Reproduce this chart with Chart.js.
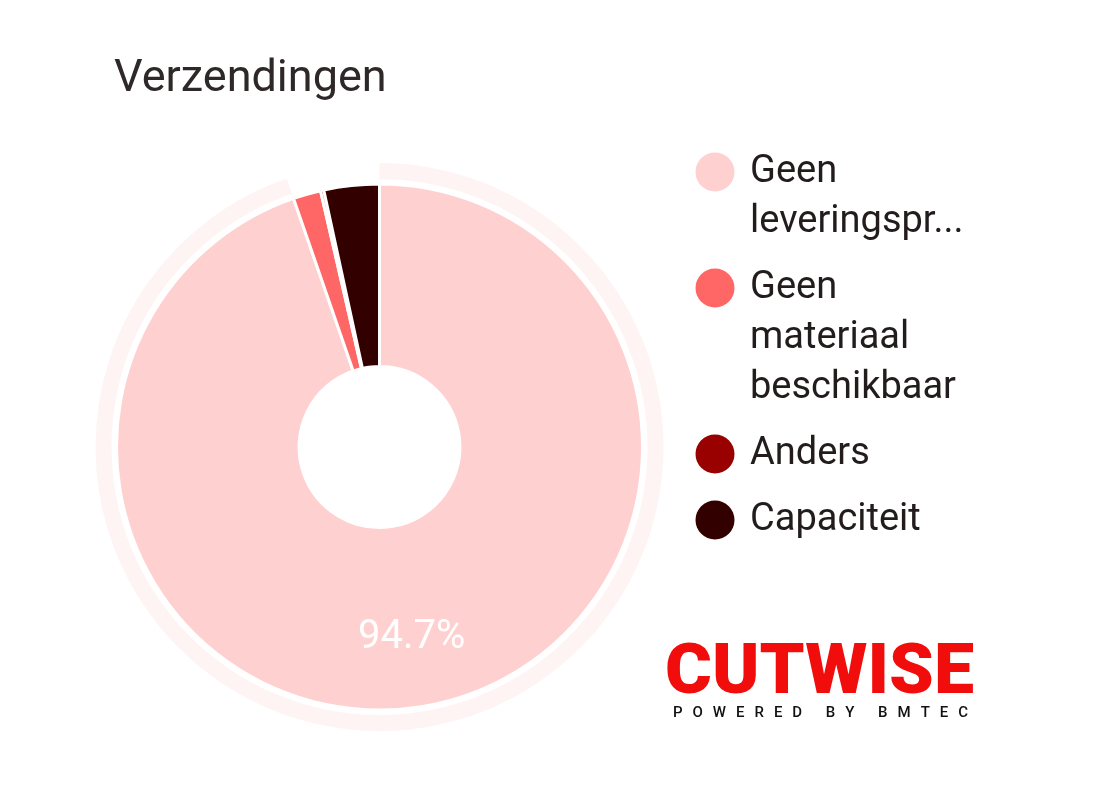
<!DOCTYPE html>
<html>
<head>
<meta charset="utf-8">
<script src="https://cdn.jsdelivr.net/npm/chart.js@4.4.1/dist/chart.umd.min.js"></script>
<style>
  html, body { margin: 0; padding: 0; background: #fff; }
  #wrap { width: 1105px; height: 812px; }
</style>
</head>
<body>
<div id="wrap"><canvas id="grafico" width="1105" height="812"></canvas></div>
<script>
const titel = "Verzendingen";
const categorieen = ["Geen leveringspr...", "Geen materiaal beschikbaar", "Anders", "Capaciteit"];
const legendaRegels = [["Geen", "leveringspr..."], ["Geen", "materiaal", "beschikbaar"], ["Anders"], ["Capaciteit"]];
const percentages = [94.7, 1.7, 0.2, 3.4];
const kleuren = ["#ffd0d0", "#ff6666", "#990000", "#330000"];
const ringKleur = "#fff4f4";

// faint highlight ring around the big slice + slice label
const ringPlugin = {
  id: "ring",
  beforeDatasetsDraw(chart) {
    const ctx = chart.ctx;
    const arc = chart.getDatasetMeta(0).data[0];
    const p = arc.getProps(["x", "y", "startAngle", "endAngle", "outerRadius"], true);
    ctx.save();
    ctx.beginPath();
    ctx.arc(p.x, p.y, p.outerRadius + 21, p.startAngle, p.endAngle);
    ctx.arc(p.x, p.y, p.outerRadius + 5, p.endAngle, p.startAngle, true);
    ctx.closePath();
    ctx.fillStyle = ringKleur;
    ctx.fill();
    ctx.restore();
  },
  afterDatasetsDraw(chart) {
    const ctx = chart.ctx;
    const meta = chart.getDatasetMeta(0);
    const totaal = percentages.reduce((a, b) => a + b, 0);
    meta.data.forEach((arc, i) => {
      const aandeel = percentages[i] / totaal;
      if (aandeel < 0.05) return;
      const p = arc.getProps(["x", "y", "startAngle", "endAngle", "innerRadius", "outerRadius"], true);
      const mid = (p.startAngle + p.endAngle) / 2;
      const r = p.innerRadius + (p.outerRadius - p.innerRadius) * 0.62;
      ctx.save();
      ctx.font = "40px Roboto";
      ctx.fillStyle = "#ffffff";
      ctx.textAlign = "center";
      ctx.textBaseline = "middle";
      ctx.fillText((aandeel * 100).toFixed(1) + "%", p.x + Math.cos(mid) * r, p.y + Math.sin(mid) * r);
      ctx.restore();
    });
  }
};

// title, legend and logo
const tekstPlugin = {
  id: "tekst",
  afterDraw(chart) {
    const ctx = chart.ctx;
    ctx.save();
    ctx.font = "45px Roboto";
    ctx.fillStyle = "#2e2828";
    ctx.textBaseline = "middle";
    ctx.fillText(titel, 114, 80);

    let y = 172;
    ctx.font = "38px Roboto";
    legendaRegels.forEach((regels, i) => {
      ctx.beginPath();
      ctx.arc(715, y, 19.5, 0, Math.PI * 2);
      ctx.fillStyle = kleuren[i];
      ctx.fill();
      ctx.fillStyle = "#231c1c";
      regels.forEach((regel, j) => ctx.fillText(regel, 750, y + j * 50));
      y += regels.length * 50 + 16;
    });

    ctx.textBaseline = "alphabetic";
    ctx.font = "900 70px Roboto";
    const w = ctx.measureText("CUTWISE").width;
    ctx.translate(665, 693);
    ctx.scale(309 / w, 1);
    ctx.fillStyle = "#f20d0d";
    ctx.fillText("CUTWISE", 0, 0);
    ctx.setTransform(1, 0, 0, 1, 0, 0);

    const onder = "POWERED BY BMTEC";
    ctx.font = "500 15px Roboto";
    ctx.fillStyle = "#111111";
    const breedtes = [...onder].map(c => ctx.measureText(c).width);
    const som = breedtes.reduce((a, b) => a + b, 0);
    const gat = (295 - som) / (onder.length - 1);
    let x = 673;
    [...onder].forEach((c, i) => {
      ctx.fillText(c, x, 717);
      x += breedtes[i] + gat;
    });
    ctx.restore();
  }
};

new Chart(document.getElementById("grafico").getContext("2d"), {
  type: "doughnut",
  data: {
    labels: categorieen,
    datasets: [{
      data: percentages,
      backgroundColor: kleuren,
      borderColor: "#ffffff",
      borderWidth: 3
    }]
  },
  options: {
    responsive: false,
    animation: false,
    events: [],
    radius: 263,
    cutout: 80,
    layout: { padding: { left: 116, right: 462, top: 184, bottom: 102 } },
    plugins: {
      legend: { display: false },
      tooltip: { enabled: false }
    }
  },
  plugins: [ringPlugin, tekstPlugin]
});
</script>
</body>
</html>
